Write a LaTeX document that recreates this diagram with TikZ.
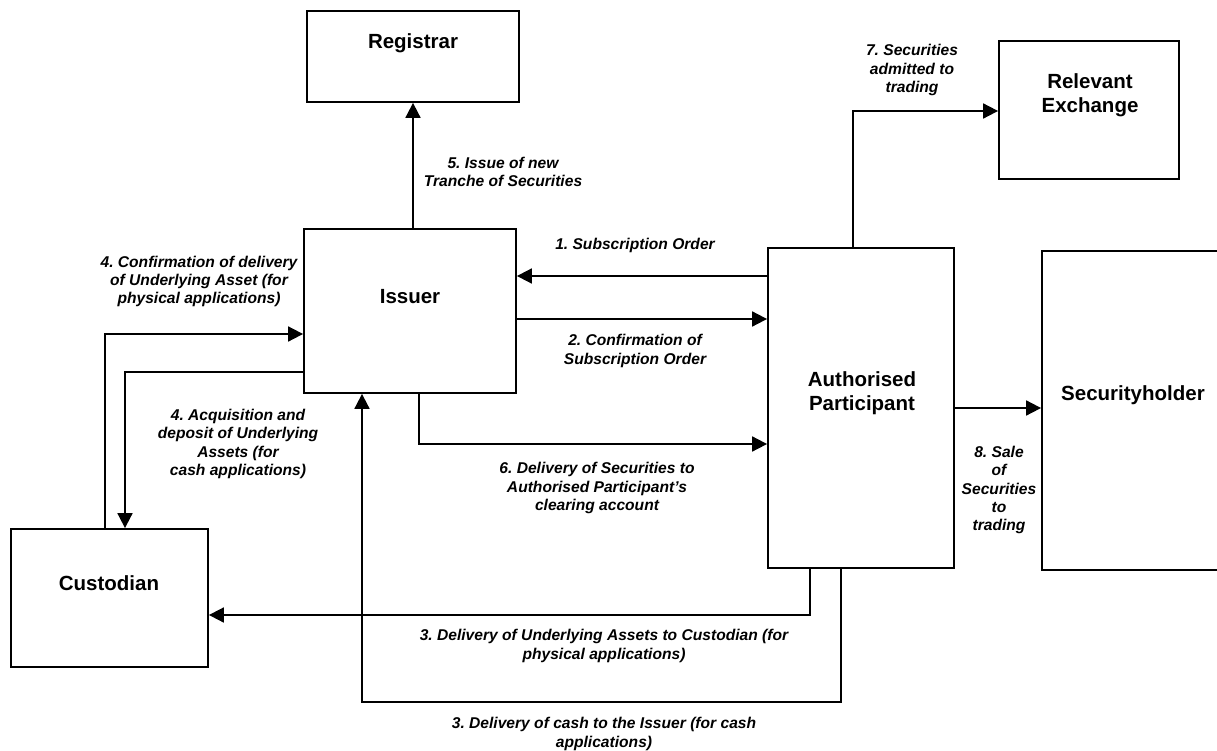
\documentclass[tikz,border=0pt]{standalone}
\usepackage{fontspec}
\setmainfont{Liberation Sans}
\usetikzlibrary{arrows.meta}
\frenchspacing

\begin{document}
\begin{tikzpicture}[x=1pt,y=-1pt]
\tikzset{
  box/.style={draw, line width=1.8pt, inner sep=0pt},
  boxtext/.style={font=\fontsize{20.5}{24}\selectfont\bfseries, align=center, inner sep=0pt},
  lbl/.style={font=\fontsize{15.6}{18.2}\selectfont\bfseries\itshape, align=center, inner sep=0pt},
  conn/.style={line width=1.8pt, -{Triangle[length=15pt,width=15pt]}}
}
\useasboundingbox (0,0) rectangle (1217,751);
\clip (0,0) rectangle (1217,751);

% boxes
\node[box, minimum width=212pt, minimum height=91pt]  (reg) at (413,56.5) {};
\node[box, minimum width=212pt, minimum height=164pt] (iss) at (410,311) {};
\node[box, minimum width=186pt, minimum height=320pt] (ap)  at (861,408) {};
\node[box, minimum width=198pt, minimum height=319pt] (sh)  at (1141,410.5) {};
\node[box, minimum width=180pt, minimum height=138pt] (re)  at (1089,110) {};
\node[box, minimum width=197pt, minimum height=138pt] (cus) at (109.5,598) {};

% box titles
\node[boxtext] (reg-t) at (413,43) {Registrar};
\node[boxtext] (iss-t) at (410,297) {Issuer};
\node[boxtext] (ap-t)  at (862,393.5) {Authorised\\Participant};
\node[boxtext] (sh-t)  at (1133,395) {Securityholder};
\node[boxtext] (re-t)  at (1090,95) {Relevant\\Exchange};
\node[boxtext] (cus-t) at (109,583) {Custodian};

% flows
\draw[conn] (ap.west |- 0,276) -- (iss.east |- 0,276);
\draw[conn] (iss.east |- 0,319) -- (ap.west |- 0,319);
\draw[conn] (iss.north -| reg.south) -- (reg.south);
\draw[conn] (iss.south -| 419,0) |- (ap.west |- 0,444);
\draw[conn] (ap.north -| 853,0) |- (re.west |- 0,111);
\draw[conn] (ap.east) -- (sh.west |- ap.east);
\draw[conn] (cus.north -| 105,0) |- (iss.west |- 0,334);
\draw[conn] (iss.west |- 0,372) -| (cus.north -| 125,0);
\draw[conn] (ap.south -| 810,0) |- (cus.east |- 0,615);
\draw[conn] (ap.south -| 841,0) -- (841,702) -| (iss.south -| 362,0);

% flow labels
\node[lbl] (l1)  at (635,245) {1. Subscription Order};
\node[lbl] (l2)  at (635,351) {2. Confirmation of\\Subscription Order};
\node[lbl] (l5)  at (503,172) {5. Issue of new\\Tranche of Securities};
\node[lbl] (l6)  at (597,488) {6. Delivery of Securities to\\Authorised Participant's\\clearing account};
\node[lbl] (l7)  at (912,70)  {7. Securities\\admitted to\\trading};
\node[lbl] (l8)  at (999,490) {8. Sale\\of\\Securities\\to\\trading};
\node[lbl] (l4a) at (199,281.5) {4. Confirmation of delivery\\of Underlying Asset (for\\physical applications)};
\node[lbl] (l4b) at (238,444) {4. Acquisition and\\deposit of Underlying\\Assets (for\\cash applications)};
\node[lbl] (l3a) at (604,646) {3. Delivery of Underlying Assets to Custodian (for\\physical applications)};
\node[lbl] (l3b) at (604,734) {3. Delivery of cash to the Issuer (for cash\\applications)};
\end{tikzpicture}
\end{document}
